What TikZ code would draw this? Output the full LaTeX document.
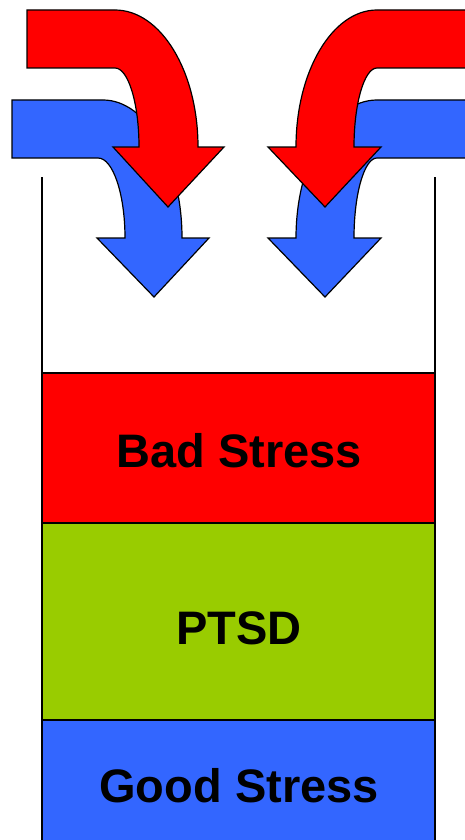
\documentclass[tikz,border=0pt]{standalone}
\usepackage{fontspec}
\setmainfont{Liberation Sans}
\definecolor{hotred}{HTML}{FF0000}
\definecolor{leafgreen}{HTML}{99CC00}
\definecolor{royalblue}{HTML}{3366FF}
\tikzset{
  outline/.style={draw=black, line width=1.2pt, line join=miter},
  label/.style={font=\fontsize{47}{50}\selectfont\bfseries, anchor=base, inner sep=0pt},
}
\begin{document}
\begin{tikzpicture}[x=1pt, y=-1pt]
\useasboundingbox (0,0) rectangle (465,840);
\clip (0,0) rectangle (465,840);

% side walls of the container
\draw[line width=1.2pt] (42,177) -- (42,373);
\draw[line width=1.2pt] (435,177) -- (435,373);

% stacked layers
\draw[outline, fill=hotred] (42,373) rectangle (435,523);
\draw[outline, fill=leafgreen] (42,523) rectangle (435,720);
\draw[outline, fill=royalblue] (42,720) rectangle (435,848);

\node[label] (bad) at (239,467) {Bad Stress};
\node[label] (ptsd) at (239,644) {PTSD};
\node[label] (good) at (239,802) {Good Stress};

% blue bent arrows (behind)
\draw[outline, fill=royalblue]
  (12,100) -- (103,100) .. controls (146.6,100) and (182,161.8) .. (182,238)
  -- (209,238) -- (154,297) -- (97,238) -- (125,238)
  .. controls (125,193.8) and (112.9,158) .. (98,158) -- (12,158) -- cycle;
\draw[outline, fill=royalblue]
  (475,100) -- (377,100) .. controls (332.3,100) and (296,161.8) .. (296,238)
  -- (268,238) -- (325,297) -- (381,238) -- (354,238)
  .. controls (354,193.8) and (364.3,158) .. (377,158) -- (475,158) -- cycle;

% red bent arrows (front)
\draw[outline, fill=hotred]
  (27,10) -- (115,10) .. controls (160.8,10) and (198,71.3) .. (198,147)
  -- (224,147) -- (168,207) -- (113,147) -- (139,147)
  .. controls (139,103.4) and (128.3,68) .. (115,68) -- (27,68) -- cycle;
\draw[outline, fill=hotred]
  (475,10) -- (377,10) .. controls (332.3,10) and (296,71.3) .. (296,147)
  -- (268,147) -- (325,207) -- (381,147) -- (354,147)
  .. controls (354,103.4) and (364.3,68) .. (377,68) -- (475,68) -- cycle;
\end{tikzpicture}
\end{document}
